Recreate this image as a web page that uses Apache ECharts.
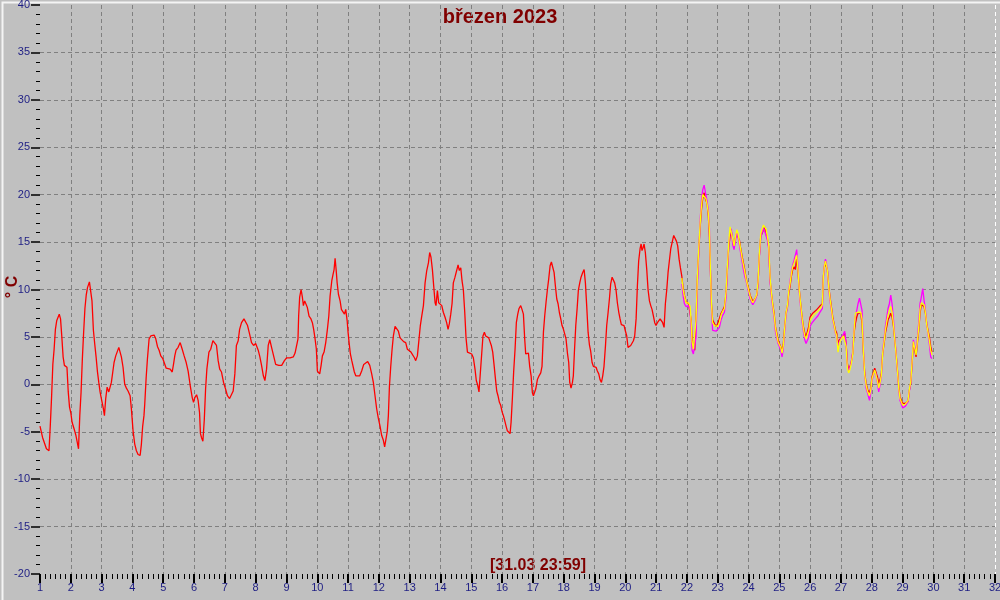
<!DOCTYPE html>
<html>
<head>
<meta charset="utf-8">
<script src="https://cdn.jsdelivr.net/npm/echarts@6/dist/echarts.min.js"></script>
<style>html,body{margin:0;padding:0;background:#c0c0c0;}#c{width:1000px;height:600px;}</style>
</head>
<body>
<div id="c"></div>
<script>
// Hours since 1.3. 00:00 and temperature [°C] (red sensor, before other sensors start)
var redA = [[0,-4.4],[2,-5.6],[3,-6.0],[5,-6.8],[7,-7.0],[8,-4.4],[9,-1.4],[10,2.1],[11,3.7],[12,5.8],[13,6.7],[15,7.4],[16,6.9],[17,5.0],[18,2.9],[19,2.0],[21,1.8],[22,-0.8],[23,-2.4],[24,-3.0],[25,-4.0],[27,-4.9],[28,-5.4],[29,-6.1],[30,-6.8],[31,-3.3],[32,-0.8],[33,2.7],[34,5.5],[35,8.0],[36,9.4],[37,10.2],[38.5,10.8],[39.5,10.6],[40.5,8.8],[41.6,5.7],[42.6,4.3],[43.7,2.9],[44.7,1.4],[45.8,0.2],[46.8,-0.8],[47.8,-1.5],[49.4,-2.6],[50.2,-3.3],[51.2,-1.5],[52.3,-0.3],[53.6,-0.8],[54.6,-0.7],[55.6,0.2],[56.7,1.3],[57.7,2.3],[59,3.0],[60.3,3.2],[61.4,3.9],[62.4,3.9],[63.4,2.9],[64.7,1.8],[66,0.0],[67.3,-0.4],[68.6,-0.7],[70.2,-1.2],[71.2,-2.6],[72.5,-4.9],[73.8,-6.3],[75.1,-7.0],[76.4,-7.4],[78,-7.5],[79,-6.3],[80,-4.4],[81,-3.3],[81.6,-2.1],[82.7,0.7],[83.7,2.7],[85,4.8],[86.3,5.1],[87.6,5.3],[88.9,5.2],[90.2,4.8],[91.5,4.0],[92.8,3.6],[94.1,3.0],[95.7,2.7],[97.2,2.5],[98.3,1.7],[99.8,1.6],[101.4,1.6],[103,1.3],[104,2.1],[105,3.0],[106,3.6],[107.6,3.9],[109.2,4.4],[110.8,3.7],[112.3,3.0],[113.9,2.3],[115.4,1.4],[117,-0.1],[118.6,-1.4],[119.6,-1.9],[120.6,-1.4],[122,-1.1],[123.2,-1.7],[124.3,-3.0],[125,-5.2],[125.8,-5.6],[126.9,-6.0],[128,-3.7],[129,-0.5],[130,1.6],[131.6,3.4],[133,3.7],[134.7,4.6],[136,4.4],[137.5,4.1],[138.8,2.5],[140,1.6],[141.4,1.3],[143,0.2],[144.6,-0.5],[146,-1.2],[147.7,-1.5],[149.2,-1.4],[150.5,-0.7],[151.8,1.1],[153,4.1],[154.4,4.6],[155.5,5.8],[157,6.5],[158.9,6.9],[160.2,6.7],[161.7,6.2],[163.3,5.3],[164.8,4.4],[166.4,4.1],[168,4.3],[169,4.4],[170,3.6],[171.3,2.9],[172.6,2.0],[174,0.9],[175.2,0.4],[176.5,1.6],[177.8,4.1],[179,4.7],[180.4,3.9],[182,3.0],[183.6,2.1],[185,1.9],
[186,2.0],[188.3,2.0],[190.4,2.5],[192.2,2.8],[194.8,2.8],[197.4,2.9],[198.7,3.3],[200.2,3.5],[201,4.8],[201.5,7.2],[202.3,9.2],[203.4,10.0],[204.4,9.2],[205.2,8.3],[206.2,8.8],[207.2,8.9],[208.3,8.1],[209.6,7.2],[211.1,6.9],[212.2,6.5],[213.2,5.8],[214.3,4.8],[215.3,3.7],[216.1,1.4],[217.1,1.3],[217.9,1.1],[219,2.0],[220,3.0],[221.3,3.4],[222.6,4.4],[223.9,5.8],[225,7.2],[226,9.3],[227.3,10.9],[228.3,11.6],[229.1,12.1],[229.9,13.3],[230.7,12.1],[231.5,10.7],[232.5,9.5],[233.8,8.8],[234.8,7.9],[236.1,8.1],[237.2,7.4],[238.2,7.9],[239.3,6.7],[240,5.5],[240.8,4.4],[241.8,3.2],[242.9,2.5],[243.9,2.3],[244.9,1.3],[246,0.9],[247.5,1.0],[249.1,0.9],[250.6,1.4],[252.2,2.1],[253.7,2.3],[255.3,2.4],[256.9,2.0],[258.4,1.1],[259.7,0.2],[261,-1.2],[262.3,-2.6],[263.6,-3.6],[264.9,-4.4],[266.2,-5.4],[267.5,-5.9],[268.5,-6.6],[269.5,-6.5],[270.5,-5.0],[271.4,-3.3],[272.2,-0.3],[273.2,1.8],[274.3,3.7],[275.3,5.1],[276.6,6.1],[277.9,6.2],[279.2,5.6],[280.5,4.9],[281.8,4.8],[283.3,4.5],[284.9,4.4],[286.2,3.7],[287.5,3.5],[289,3.4],[290.4,3.2],[291.7,2.8],[292.7,2.5],[294,3.0],[295.3,4.8],[296.3,6.2],[297.4,7.2],[298.7,8.3],[300,10.7],[301.3,12.0],[302.6,12.8],[303.6,13.9],[304.6,13.4],[305.7,12.1],[306.7,10.4],[307.8,8.6],[308.5,8.3],[309.6,9.9],[310.6,8.6],[311.6,8.8],[313,8.3],[314.2,7.6],[315.5,7.1],[316.8,6.5],[317.9,5.8],[318.9,6.4],[320,7.4],[321,8.5],[322,10.7],[323.3,11.3],[324.6,12.0],[325.7,12.6],[326.7,12.0],[327.8,12.3],[328.8,10.9],[329.8,10.0],[330.9,7.6],[331.9,4.9],[333,3.4],[334.5,3.2],[336.3,3.2],[337.6,2.8],[338.9,1.6],[339.9,0.4],[341,-0.1],[342,-0.8],[343.1,1.3],[344.1,3.2],[345.1,5.1],[346.2,5.5],[347.2,5.1],[348.5,5.3],[349.6,4.9],[350.6,4.8],[351.6,4.1],[352.7,3.4],[353.7,2.1],[354.8,0.6],[355.8,-0.7],[356.8,-1.2],[357.9,-1.9],[358.9,-2.2],[360,-2.9],[361,-3.3],[362,-3.8],[363.1,-4.4],[364.1,-4.9],[365.1,-5.1],[366.2,-5.2],[367,-4.0],[368,-1.5],[369,1.3],
[370.1,3.7],[371.1,6.5],[372.2,7.4],[373.2,8.0],[374.5,8.3],[375.5,7.9],[376.6,7.4],[377.6,4.8],[378.4,3.2],[379.4,3.0],[380.5,3.3],[381.5,1.9],[382.6,0.9],[383.6,-0.9],[384.4,-1.2],[385.2,-1.4],[386.2,-0.5],[387.5,0.5],[388.8,0.9],[390.1,1.2],[391.1,1.9],[392.2,5.5],[393.2,7.2],[394.2,8.6],[395.3,10.0],[396.3,11.1],[397.4,12.5],[398.4,12.9],[399.4,12.7],[400.5,11.8],[401.5,10.4],[402.6,9.0],[403.6,8.5],[404.6,7.6],[405.7,6.9],[406.7,6.2],[407.8,5.8],[408.8,5.3],[409.8,4.8],[410.9,3.3],[411.9,2.3],[412.7,0.2],[413.7,-0.4],[414.8,0.2],[415.5,0.9],[416.3,3.3],[417.4,6.2],[418.4,7.9],[419.4,9.9],[420.5,10.7],[421.5,11.3],[422.8,11.8],[423.9,12.1],[424.9,10.7],[425.9,8.3],[427,5.5],[428,4.2],[429,3.5],[430.1,2.3],[431.1,1.9],[432.2,1.8],[433.2,1.8],[434.2,1.4],[435.3,1.1],[436.3,0.5],[437.4,0.2],[438.4,0.9],[439.4,1.9],[440.5,4.0],[441.5,6.2],[442.6,7.6],[443.6,9.0],[444.6,10.6],[445.7,11.3],[446.7,11.3],[447.7,10.7],[448.8,9.9],[449.8,8.6],[450.9,7.6],[451.9,6.9],[452.9,6.3],[454,6.2],[455,6.2],[456.1,5.6],[457.1,5.1],[458.1,3.9],[459.2,4.0],[460.2,4.1],[461.2,4.2],[462.3,4.6],[463.3,5.1],[464.4,6.9],[465.4,10.4],[466.4,13.0],[467.5,14.3],[468.3,14.8],[469,14.1],[469.8,14.4],[470.6,14.8],[471.6,13.9],[472.7,12.1],[473.7,10.0],[474.8,8.8],[475.8,8.3],[476.8,7.9],[477.9,7.2],[478.9,6.5],[479.9,6.2],[481,6.5],[482,6.7],[483.1,6.9],[484.1,6.9],[485.1,6.5],[486.2,6.0],[487.2,8.5],[488.3,10.0],[489.3,11.8],[490.3,13.0],[491.4,14.3],[492.7,15.1],[493.7,15.7],[494.8,15.5],[495.8,15.1],[496.8,14.6],[497.9,13.2],[498.9,12.3]];

// Period with three sensors: hours, red, magenta, yellow
var hoursB = [500,501,502,503.4,505.2,506.5,507.3,508,509,510.1,511.1,512.2,513.2,514.3,515.3,516.3,517.4,518.7,519.7,520.7,521.5,522.3,523.1,524,525.4,526.7,528,529.3,530.6,531.9,533.2,534.5,535.5,536.6,537.6,538.6,539.7,540.7,541.7,542.8,543.8,544.9,545.9,547,548,549,550.1,551.1,552.1,553.2,554.2,555.3,556.3,557.3,558.4,559.4,560.4,561.5,562.5,563.6,564.6,565.6,566.7,567.7,568.8,569.8,570.8,571.9,572.9,574,575,576,577.1,578.1,579.1,580.2,581.2,582.3,583.3,584.3,585.4,586.4,587.5,588.5,589.5,590.6,591.6,592.6,593.7,594.7,595.8,596.8,597.8,598.9,599.9,601,602,603.3,604.6,605.9,607.2,608.5,609.5,610.3,611.1,611.9,612.6,613.4,614.5,615.5,616.5,617.6,618.6,619.7,620.7,621.7,622.8,623.8,624.9,625.9,626.9,628,629,630,631.1,632.1,633.2,634.2,635.2,636.3,637.3,638.4,639.4,640.4,641.5,642.5,643.6,644.9,646.2,647.2,648.2,649.3,650.3,651.3,652.4,653.4,654.5,655.5,656.5,657.6,658.6,659.7,660.7,661.7,662.8,663.8,664.9,665.9,666.9,668,669,670,671.1,672.1,673.2,674.2,675.2,676.3,677.3,678.4,679.4,680.4,681.5,682.5,683.5,684.6,685.6,686.6,687.7,688.7,689.8,690.8,691.8,692.9,693.9,694.9];
var redB = [11.4,10.2,9.4,8.7,8.5,8.3,6.8,5.0,3.9,3.6,6.8,11.3,14.1,16.6,18.4,19.6,20.2,19.4,19.1,17.7,15.6,12.0,8.5,6.8,6.4,6.1,6.4,6.6,7.5,7.8,8.2,9.6,12.1,14.5,15.6,16.1,15.2,14.5,15.4,15.9,15.7,15.2,14.3,13.5,12.8,12.1,11.2,10.6,10.1,9.4,9.1,8.7,8.9,9.1,9.4,10.6,13.5,15.6,15.9,16.3,16.6,15.9,15.4,14.5,11.0,9.6,8.5,7.5,6.1,5.4,4.7,4.3,4.1,3.6,4.3,6.1,7.5,8.2,9.6,10.3,11.4,12.1,12.4,12.1,13.4,11.7,9.9,8.5,7.1,6.1,5.4,5.0,5.2,6.1,7.1,7.3,7.5,7.7,7.8,8.0,8.2,8.4,8.5,11.4,12.4,12.9,12.4,12.1,10.3,9.2,8.2,7.1,6.4,5.7,5.4,4.3,4.7,4.9,5.0,5.2,5.4,4.3,2.2,1.5,1.9,2.4,3.3,5.4,6.4,7.1,7.5,7.3,7.5,6.4,3.3,1.2,0.1,-0.6,-0.9,-0.4,0.8,1.3,1.7,1.5,0.8,0.1,0.5,1.2,3.3,4.3,5.4,6.1,6.8,7.1,7.5,7.1,6.1,4.7,3.3,1.5,-0.2,-1.3,-1.7,-2.0,-2.2,-2.0,-2.0,-1.8,-0.6,0.1,2.2,4.3,3.6,2.9,4.3,5.7,7.5,8.4,8.5,8.2,7.5,6.4,5.7,5.0,4.0,3.4];
var magentaB = [10.6,9.4,8.5,8.2,8.3,7.8,5.5,3.6,3.2,3.1,5.0,10.5,13.8,17.3,19.4,20.5,21.0,20.0,19.3,18.3,16.5,12.0,8.0,5.7,5.6,5.6,5.4,6.0,6.8,7.3,7.6,9.2,11.8,14.8,16.1,16.4,14.7,14.2,15.1,16.0,15.6,14.7,13.8,12.9,12.1,11.4,10.9,10.3,9.7,9.0,8.7,8.4,8.6,8.9,9.4,10.6,13.4,15.5,15.4,16.5,16.1,15.7,15.2,14.3,10.8,9.3,8.1,7.0,5.6,4.9,4.3,4.0,3.6,2.9,3.8,5.7,7.3,8.1,9.8,10.8,11.9,12.6,13.1,13.0,14.2,12.2,9.6,8.1,6.6,5.6,4.7,4.3,4.5,5.0,6.1,6.4,6.6,6.8,7.0,7.2,7.5,7.7,8.0,11.0,12.6,13.2,12.8,12.0,10.0,8.8,7.8,6.8,6.1,5.4,5.0,4.0,4.5,4.8,5.0,5.3,5.6,4.3,2.0,1.4,1.8,2.4,3.5,5.8,7.2,7.8,8.5,9.1,8.9,7.8,3.7,1.0,-0.4,-1.0,-1.7,-0.9,0.4,1.0,1.4,1.1,0.2,-0.8,0.0,0.9,3.5,4.8,6.1,7.1,8.0,8.5,9.4,8.5,6.8,5.0,3.3,1.3,-0.6,-1.7,-2.1,-2.5,-2.5,-2.3,-2.1,-1.8,-0.7,0.2,2.5,4.7,4.0,3.4,4.8,6.5,8.5,9.2,10.1,8.9,7.8,6.4,5.4,4.2,2.9,2.7];
var yellowB = [11.2,10.0,9.3,8.6,8.6,8.2,6.5,4.5,3.7,3.5,6.8,11.5,14.3,17.0,18.8,20.0,20.1,19.6,19.0,18.0,16.2,12.2,8.5,6.5,6.2,6.0,6.1,6.5,7.3,7.7,8.0,9.8,12.4,15.0,16.6,16.8,15.3,14.6,15.5,16.3,15.9,15.0,14.2,13.3,12.6,11.9,11.1,10.5,9.9,9.3,8.9,8.6,8.8,9.1,9.5,10.8,13.7,15.9,16.1,16.8,16.7,16.4,15.6,14.7,11.2,9.6,8.4,7.3,6.0,5.2,4.5,4.2,3.9,3.3,4.1,6.0,7.5,8.3,9.8,10.6,11.7,12.4,12.8,12.6,13.6,11.9,9.8,8.4,7.0,5.9,5.1,4.8,4.9,5.7,6.7,7.0,7.2,7.4,7.5,7.7,7.9,8.1,8.4,11.3,12.5,13.0,12.6,12.0,10.2,9.0,8.0,6.9,6.3,5.5,5.1,3.4,4.3,4.7,4.9,5.1,5.2,4.0,1.7,1.2,1.6,2.2,3.2,5.6,7.5,7.6,7.6,7.8,7.6,6.9,3.5,1.0,-0.1,-0.8,-1.2,-0.6,0.6,1.1,1.5,1.3,0.4,-0.4,0.2,1.0,3.3,4.5,5.7,6.6,7.3,7.8,8.2,7.6,6.3,4.8,3.2,1.4,-0.4,-1.5,-1.9,-2.2,-2.3,-2.1,-2.0,-1.7,-0.5,0.3,2.4,4.5,3.8,3.1,4.5,6.0,7.9,8.6,8.8,8.4,7.6,6.3,5.5,4.6,3.6,3.1];

var yTicks = [-20,-15,-10,-5,0,5,10,15,20,25,30,35,40];

function pairs(hours, vals){ return hours.map(function(h,i){ return [h, vals[i]]; }); }
var redData = redA.concat(pairs(hoursB, redB));
var magentaData = pairs(hoursB, magentaB);
var yellowData = pairs(hoursB, yellowB);

var chart = echarts.init(document.getElementById('c'), null, {renderer:'canvas'});
var gridColX = ['rgba(0,0,0,0)']; for (var i=1;i<31;i++) gridColX.push('#808080'); gridColX.push('#ffffff');
var gridColY = ['rgba(0,0,0,0)']; for (var j=1;j<yTicks.length-1;j++) gridColY.push('#808080'); gridColY.push('rgba(0,0,0,0)');
var labelStyle = {color:'#1e1e84', fontFamily:'Liberation Sans, Arial, sans-serif', fontSize:11};

chart.setOption({
  animation:false,
  backgroundColor:'#c0c0c0',
  grid:{left:40, right:5, top:5, bottom:26, containLabel:false, outerBoundsMode:'none'},
  xAxis:{
    type:'value', min:0, max:744, interval:24,
    axisLine:{show:false, onZero:false},
    axisTick:{show:true, inside:false, length:9, lineStyle:{color:'#000', width:2}},
    minorTick:{show:true, splitNumber:6, length:5, lineStyle:{color:'#000', width:1}},
    axisLabel:Object.assign({margin:8, formatter:function(v){return String(v/24+1);}}, labelStyle),
    splitLine:{show:true, lineStyle:{color:gridColX, type:[4,3], width:1}}
  },
  yAxis:{
    type:'value', min:yTicks[0], max:yTicks[yTicks.length-1], interval:5,
    axisLine:{show:false, onZero:false},
    axisTick:{show:true, inside:false, length:9, lineStyle:{color:'#000', width:1.5}},
    minorTick:{show:true, splitNumber:5, length:4, lineStyle:{color:'#000', width:1}},
    axisLabel:Object.assign({margin:10}, labelStyle),
    splitLine:{show:true, lineStyle:{color:gridColY, type:[4,3], width:1}}
  },
  series:[
    {type:'line', data:redData, showSymbol:false, symbol:'none', lineStyle:{color:'#ff0000', width:1.3}, z:2},
    {type:'line', data:magentaData, showSymbol:false, symbol:'none', lineStyle:{color:'#ff00ff', width:1.3}, z:3},
    {type:'line', data:yellowData, showSymbol:false, symbol:'none', lineStyle:{color:'#ffff00', width:1.3}, z:4}
  ],
  graphic:[
    {type:'rect', left:0, top:0, shape:{width:999, height:599}, style:{fill:'none', stroke:'#f4f4f4', lineWidth:2}, silent:true},
    {type:'text', x:500, y:17, style:{text:'březen 2023', fill:'#800000', font:'bold 20px "Liberation Sans", Arial, sans-serif', align:'center', verticalAlign:'middle'}},
    {type:'text', x:538, y:566, style:{text:'[31.03 23:59]', fill:'#800000', font:'bold 16px "Liberation Sans", Arial, sans-serif', align:'center', verticalAlign:'middle'}},
    {type:'text', x:13, y:287, rotation:Math.PI/2, style:{text:'° C', fill:'#800000', font:'bold 16px "Liberation Sans", Arial, sans-serif', align:'center', verticalAlign:'middle'}}
  ]
});
</script>
</body>
</html>
